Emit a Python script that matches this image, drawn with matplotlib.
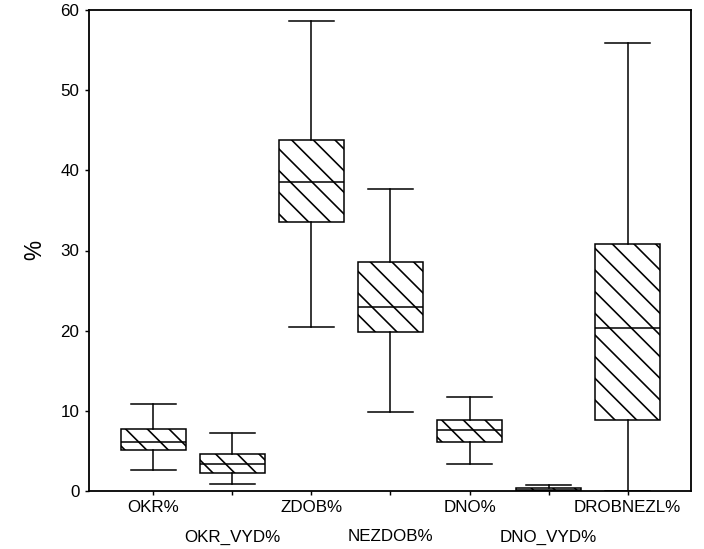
import matplotlib
matplotlib.use("Agg")
import matplotlib.pyplot as plt

# category names and box statistics (%)
categories = ["OKR%", "OKR_VYD%", "ZDOB%", "NEZDOB%", "DNO%", "DNO_VYD%", "DROBNEZL%"]
whis_low = [2.6, 0.9, 20.4, 9.9, 3.4, 0.0, 0.0]
q1 = [5.1, 2.3, 33.5, 19.8, 6.05, 0.0, 8.9]
median = [6.05, 3.4, 38.6, 23.0, 7.6, 0.15, 20.3]
q3 = [7.75, 4.6, 43.75, 28.6, 8.9, 0.38, 30.8]
whis_high = [10.8, 7.2, 58.6, 37.7, 11.75, 0.75, 55.9]

plt.rcParams['font.family'] = ['Liberation Sans', 'DejaVu Sans']
plt.rcParams['hatch.linewidth'] = 0.9
plt.rcParams['hatch.color'] = '#333333'

dpi = 130
fig = plt.figure(figsize=(704 / dpi, 549 / dpi), dpi=dpi)
ax = fig.add_axes([89 / 704, 1 - 491 / 549, (691 - 89) / 704, (491 - 10) / 549])

stats = []
for i, name in enumerate(categories):
    stats.append(dict(label=name, whislo=whis_low[i], q1=q1[i], med=median[i],
                      q3=q3[i], whishi=whis_high[i], fliers=[]))

pos = list(range(1, len(categories) + 1))
lw = 0.85
bp = ax.bxp(stats, positions=pos, widths=0.82, capwidths=0.57, showfliers=False,
            patch_artist=True,
            boxprops=dict(facecolor='white', edgecolor='black', linewidth=lw, hatch='\\' * 2),
            medianprops=dict(color='black', linewidth=lw),
            whiskerprops=dict(color='black', linewidth=lw),
            capprops=dict(color='black', linewidth=lw))

ax.set_xlim(0.19, 7.8)
ax.set_ylim(0, 60)
ax.set_yticks([0, 10, 20, 30, 40, 50, 60])

fs = 9.4
# staggered category labels: odd ones on major ticks, even ones on minor ticks lower
ax.set_xticks(pos[0::2])
ax.set_xticklabels(categories[0::2])
ax.set_xticks(pos[1::2], minor=True)
ax.set_xticklabels(categories[1::2], minor=True)
ax.tick_params(axis='x', which='major', length=2, width=0.8, pad=3, labelsize=fs)
ax.tick_params(axis='x', which='minor', length=2, width=0.8, pad=19.3, labelsize=fs)
ax.tick_params(axis='y', length=2, width=0.8, pad=3.3, labelsize=fs)

ax.set_ylabel('%', fontsize=12.5, labelpad=8)

for s in ax.spines.values():
    s.set_linewidth(1.0)

fig.savefig('out.png', dpi=dpi)
